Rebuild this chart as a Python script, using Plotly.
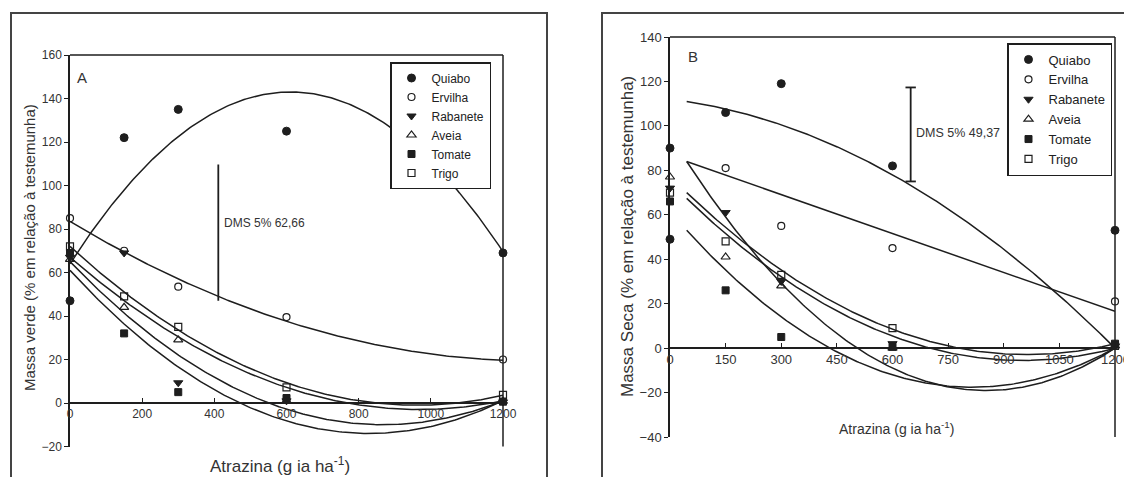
import numpy as np
import plotly.graph_objects as go

# ---------------- DATA ----------------
species = ["Quiabo", "Ervilha", "Rabanete", "Aveia", "Tomate", "Trigo"]

# Panel A - Massa verde
doses_A = [0, 150, 300, 600, 1200]
quiabo_A = [47, 122, 135, 125, 69]
ervilha_A = [85, 70, 53.5, 39.5, 20]
rabanete_A = [67, 69, 9.3, 1, 0.5]
aveia_A = [66, 44, 29, 1, 0.8]
tomate_A = [69, 32, 5, 2.3, 0.6]
trigo_A = [72, 49, 35, 7.2, 3.7]

# regression coefficients (c0, c1, c2) for panel A
coef_quiabo_A = [64, 0.2586, -2.116e-4]
coef_ervilha_A = [83.5, -0.1, 3.9e-5]
coef_rabanete_A = [65, -0.17286, 9.961e-5]
coef_aveia_A = [67, -0.14456, 7.463e-5]
coef_tomate_A = [61, -0.18094, 1.0913e-4]
coef_trigo_A = [72, -0.15193, 7.905e-5]
curve_range_A = [0, 1200]

# Panel B - Massa seca
doses_quiabo_B = [0, 0, 150, 300, 600, 1200, 1200]
quiabo_B = [90, 49, 106, 119, 82, 53, 1.5]
doses_ervilha_B = [150, 300, 600, 1200]
ervilha_B = [81, 55, 45, 21]
doses_B = [0, 150, 300, 600, 1200]
rabanete_B = [72, 61, 30, 2, 1]
aveia_B = [77, 41, 28, 0, 1]
tomate_B = [66, 26, 5, 0.6, 2]
trigo_B = [70, 48, 33, 9, 1]

# regression coefficients (c0, c1, c2) for panel B
coef_quiabo_B = [112, -0.02, -6.111e-5]
coef_ervilha_B = [86.6, -0.0584, 0.0]
coef_rabanete_B = [95.8, -0.26953, 1.5806e-4]
coef_aveia_B = [74.8, -0.16904, 8.889e-5]
coef_tomate_B = [61.5, -0.19398, 1.1895e-4]
coef_trigo_B = [77.3, -0.16668, 8.658e-5]
curve_range_B = [45, 1200]

# DMS bars
dms_A_text = "DMS 5% 62,66"
dms_A_x = 411
dms_A_y = [47, 109.66]
dms_B_text = "DMS 5% 49,37"
dms_B_x = 649
dms_B_y = [75, 117.3]
dms_B_cap = 14

xticks_A = [0, 200, 400, 600, 800, 1000, 1200]
yticks_A = list(range(-20, 161, 20))
xticks_B = [0, 150, 300, 450, 600, 750, 900, 1050, 1200]
yticks_B = list(range(-40, 141, 20))

# ---------------- STYLE ----------------
W, H = 1124, 477
def PX(x): return x / W
def PY(y): return 1 - y / H

REG = "Liberation Sans, Arial, sans-serif"
INK = "#1e1e1e"
TXT = "#333"

markers = {
    "Quiabo": dict(symbol="circle", color=INK, size=8, line=dict(color=INK, width=1)),
    "Ervilha": dict(symbol="circle-open", color=INK, size=7, line=dict(color=INK, width=1.2)),
    "Rabanete": dict(symbol="triangle-down", color=INK, size=8, line=dict(color=INK, width=1)),
    "Aveia": dict(symbol="triangle-up-open", color=INK, size=8, line=dict(color=INK, width=1.2)),
    "Tomate": dict(symbol="square", color=INK, size=7, line=dict(color=INK, width=1)),
    "Trigo": dict(symbol="square-open", color=INK, size=7, line=dict(color=INK, width=1.2)),
}

fig = go.Figure()

def add_curve(coef, rng, xa, ya):
    xs = np.linspace(rng[0], rng[1], 200)
    ys = coef[0] + coef[1] * xs + coef[2] * xs ** 2
    fig.add_trace(go.Scatter(x=xs, y=ys, mode="lines", line=dict(color=INK, width=1.5),
                             showlegend=False, xaxis=xa, yaxis=ya, hoverinfo="skip"))

def add_points(name, xs, ys, xa, ya, legend):
    fig.add_trace(go.Scatter(x=xs, y=ys, mode="markers", name=name, marker=markers[name],
                             xaxis=xa, yaxis=ya, legend=legend, cliponaxis=False))

# Panel A
for coef in [coef_quiabo_A, coef_ervilha_A, coef_rabanete_A, coef_aveia_A, coef_tomate_A, coef_trigo_A]:
    add_curve(coef, curve_range_A, "x", "y")
for name, vals in zip(species, [quiabo_A, ervilha_A, rabanete_A, aveia_A, tomate_A, trigo_A]):
    add_points(name, doses_A, vals, "x", "y", "legend")

# Panel B
for coef in [coef_quiabo_B, coef_ervilha_B, coef_rabanete_B, coef_aveia_B, coef_tomate_B, coef_trigo_B]:
    add_curve(coef, curve_range_B, "x2", "y2")
b_series = [(doses_quiabo_B, quiabo_B), (doses_ervilha_B, ervilha_B), (doses_B, rabanete_B),
            (doses_B, aveia_B), (doses_B, tomate_B), (doses_B, trigo_B)]
for name, (xs, ys) in zip(species, b_series):
    add_points(name, xs, ys, "x2", "y2", "legend2")

# DMS bars
fig.add_trace(go.Scatter(x=[dms_A_x, dms_A_x], y=dms_A_y, mode="lines", line=dict(color=INK, width=1.8),
                         showlegend=False, xaxis="x", yaxis="y", hoverinfo="skip"))
fig.add_trace(go.Scatter(x=[dms_B_x, dms_B_x, None, dms_B_x - dms_B_cap, dms_B_x + dms_B_cap, None,
                            dms_B_x - dms_B_cap, dms_B_x + dms_B_cap],
                         y=[dms_B_y[0], dms_B_y[1], None, dms_B_y[0], dms_B_y[0], None, dms_B_y[1], dms_B_y[1]],
                         mode="lines", line=dict(color=INK, width=1.8),
                         showlegend=False, xaxis="x2", yaxis="y2", hoverinfo="skip"))

# ---------------- AXES ----------------
domA_x = [PX(70), PX(503)]
domA_y = [PY(446.5), PY(55)]
domB_x = [PX(670), PX(1115)]
domB_y = [PY(437), PY(37)]
rngA_y = [-20, 160]
rngB_y = [-40, 140]

def zero_pos(dom, rng):
    return dom[0] + (0 - rng[0]) / (rng[1] - rng[0]) * (dom[1] - dom[0])

def axis_common(size):
    return dict(showgrid=False, zeroline=False, showline=True, linecolor=INK, linewidth=1.5,
                tickcolor=INK, ticklen=4, tickwidth=1.2, automargin=False,
                tickfont=dict(family=REG, size=size, color=TXT))

fig.update_layout(
    width=W, height=H, autosize=False,
    margin=dict(l=0, r=0, t=0, b=0, pad=0, autoexpand=False),
    paper_bgcolor="white", plot_bgcolor="white",
    xaxis=dict(domain=domA_x, range=[0, 1200], anchor="free", position=zero_pos(domA_y, rngA_y),
               tickvals=xticks_A, ticks="inside", **axis_common(12)),
    yaxis=dict(domain=domA_y, range=rngA_y, anchor="x", tickvals=yticks_A, ticks="outside", **axis_common(12)),
    xaxis2=dict(domain=domB_x, range=[0, 1200], anchor="free", position=zero_pos(domB_y, rngB_y),
                tickvals=xticks_B[:-1], ticks="inside", **axis_common(13)),
    yaxis2=dict(domain=domB_y, range=rngB_y, anchor="x2", tickvals=yticks_B, ticks="outside", **axis_common(13)),
    legend=dict(x=PX(390), y=PY(62), xanchor="left", yanchor="top", bgcolor="white",
                bordercolor=INK, borderwidth=1.5, font=dict(family=REG, size=12, color="#222"),
                tracegroupgap=0),
    legend2=dict(x=PX(1007), y=PY(43), xanchor="left", yanchor="top", bgcolor="white",
                 bordercolor=INK, borderwidth=1.5, font=dict(family=REG, size=13, color="#222"),
                 tracegroupgap=0),
    showlegend=True,
)

# ---------------- FRAMES ----------------
shapes = []
shapes.append(dict(type="rect", xref="paper", yref="paper", x0=PX(11), x1=PX(547), y0=-0.05, y1=PY(13),
                   line=dict(color="#444", width=2)))
shapes.append(dict(type="rect", xref="paper", yref="paper", x0=PX(602), x1=1.05, y0=-0.05, y1=PY(13),
                   line=dict(color="#444", width=2)))
for xr, yr in [("x domain", "y domain"), ("x2 domain", "y2 domain")]:
    shapes.append(dict(type="line", xref=xr, yref=yr, x0=0, x1=1, y0=1, y1=1, line=dict(color=INK, width=1.5)))
    shapes.append(dict(type="line", xref=xr, yref=yr, x0=1, x1=1, y0=0, y1=1, line=dict(color=INK, width=1.5)))
fig.update_layout(shapes=shapes)

# ---------------- TEXT ----------------
def note(text, x, y, size, angle=0, xanchor="center"):
    return dict(text=text, x=PX(x), y=PY(y), xref="paper", yref="paper", showarrow=False,
                xanchor=xanchor, yanchor="middle", textangle=angle,
                font=dict(family=REG, size=size, color=TXT))

ann = [
    note("A", 82, 77, 15),
    note("B", 693, 57, 15),
    note("Massa verde (% em relação à testemunha)", 30, 248, 15, angle=-90),
    note("Massa Seca (% em relação à testemunha)", 627, 237, 17, angle=-90),
    note("Atrazina (g ia ha<sup>-1</sup>)", 280, 465, 17),
    note("Atrazina (g ia ha<sup>-1</sup>)", 896, 428, 14),
    note(dms_A_text, 222, 223, 12, xanchor="left"),
    note(dms_B_text, 914, 133, 12.5, xanchor="left"),
    # last B tick label, which runs past the right edge of the page (clipped as in the source)
    dict(text=str(xticks_B[-1]), x=xticks_B[-1], y=0, xref="x2", yref="y2", showarrow=False,
         xanchor="center", yanchor="top", yshift=-2, font=dict(family=REG, size=13, color=TXT)),
]
fig.update_layout(annotations=ann)

page_css = ("var s=document.createElement('style');"
            "s.textContent='html,body{margin:0;padding:0;overflow:hidden;}';"
            "document.head.appendChild(s);")
fig.write_html("out.html", config={"displayModeBar": False}, post_script=page_css)
